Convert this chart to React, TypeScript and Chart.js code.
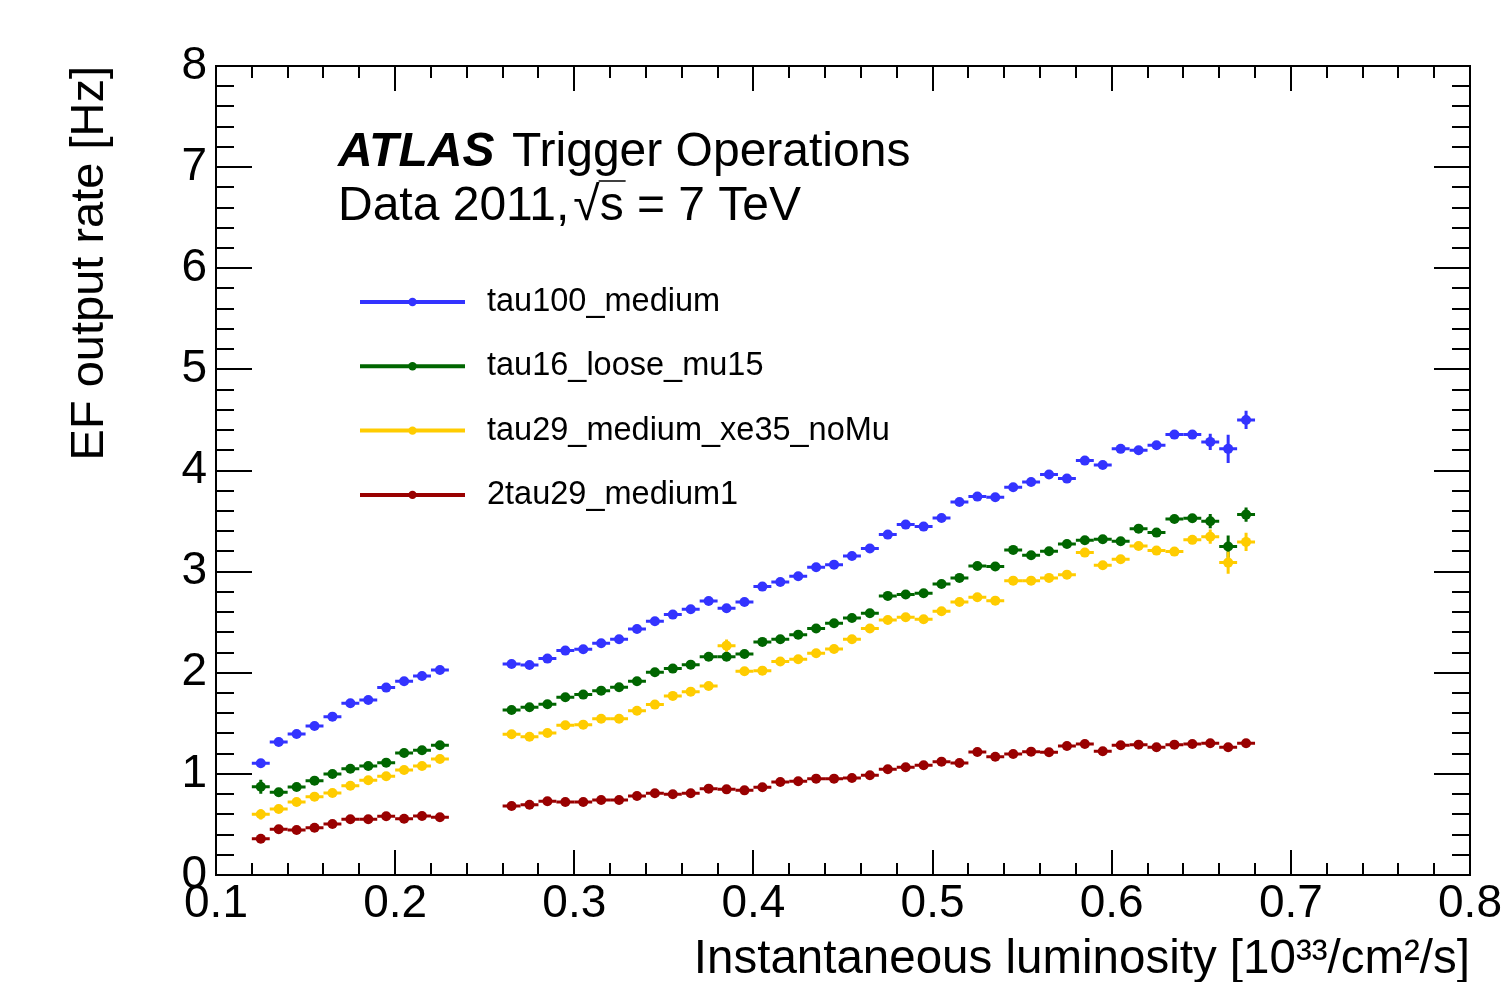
import React, { useEffect, useRef } from 'react';
import { Chart, registerables } from 'chart.js';

Chart.register(...registerables);

// Bin centres of instantaneous luminosity [10^33 / cm^2 / s]
const luminosity = [
  0.125, 0.135, 0.145, 0.155, 0.165, 0.175, 0.185, 0.195, 0.205, 0.215, 0.225,
  0.265, 0.275, 0.285, 0.295, 0.305, 0.315, 0.325, 0.335, 0.345, 0.355, 0.365, 0.375, 0.385, 0.395, 0.405, 0.415,
  0.425, 0.435, 0.445, 0.455, 0.465, 0.475, 0.485, 0.495, 0.505, 0.515, 0.525, 0.535, 0.545, 0.555,
  0.565, 0.575, 0.585, 0.595, 0.605, 0.615, 0.625, 0.635, 0.645, 0.655, 0.665, 0.675,
];
const binHalfWidth = 0.005;

const seriesNames = ['tau100_medium', 'tau16_loose_mu15', 'tau29_medium_xe35_noMu', '2tau29_medium1'];
const seriesColors = ['#3333ff', '#006600', '#ffcc00', '#990000'];

const tau100Medium = [
  1.105, 1.316, 1.395, 1.474, 1.566, 1.698, 1.731, 1.853, 1.916, 1.968, 2.028,
  2.087, 2.077, 2.140, 2.219, 2.232, 2.292, 2.331, 2.433, 2.509, 2.575, 2.628, 2.710, 2.638, 2.700, 2.852, 2.898,
  2.954, 3.043, 3.069, 3.155, 3.228, 3.366, 3.465, 3.445, 3.531, 3.689, 3.742, 3.735, 3.834, 3.887,
  3.960, 3.920, 4.098, 4.055, 4.214, 4.200, 4.250, 4.355, 4.355, 4.283, 4.214, 4.500,
];
const tau100MediumErr = [
  0.03, 0.02, 0.02, 0.02, 0.02, 0.02, 0.02, 0.02, 0.02, 0.02, 0.02,
  0.02, 0.02, 0.02, 0.02, 0.02, 0.02, 0.02, 0.02, 0.02, 0.02, 0.02, 0.02, 0.02, 0.02, 0.02, 0.02,
  0.02, 0.02, 0.02, 0.02, 0.02, 0.02, 0.02, 0.02, 0.02, 0.02, 0.02, 0.02, 0.02, 0.02,
  0.02, 0.02, 0.02, 0.02, 0.02, 0.02, 0.02, 0.03, 0.03, 0.08, 0.14, 0.09,
];

const tau16LooseMu15 = [
  0.873, 0.818, 0.870, 0.933, 0.999, 1.051, 1.078, 1.111, 1.207, 1.233, 1.283,
  1.632, 1.659, 1.688, 1.758, 1.784, 1.823, 1.857, 1.916, 2.005, 2.041, 2.080, 2.159, 2.159, 2.186, 2.305, 2.331,
  2.377, 2.437, 2.489, 2.542, 2.588, 2.760, 2.773, 2.786, 2.878, 2.938, 3.056, 3.050, 3.215, 3.162,
  3.202, 3.274, 3.310, 3.320, 3.300, 3.425, 3.386, 3.521, 3.528, 3.499, 3.248, 3.564,
];
const tau16LooseMu15Err = [
  0.07, 0.02, 0.02, 0.02, 0.02, 0.02, 0.02, 0.02, 0.02, 0.02, 0.02,
  0.02, 0.02, 0.02, 0.02, 0.02, 0.02, 0.02, 0.02, 0.02, 0.02, 0.02, 0.02, 0.02, 0.02, 0.02, 0.02,
  0.02, 0.02, 0.02, 0.02, 0.02, 0.02, 0.02, 0.02, 0.02, 0.02, 0.02, 0.02, 0.02, 0.02,
  0.02, 0.02, 0.02, 0.02, 0.02, 0.02, 0.02, 0.03, 0.03, 0.07, 0.11, 0.07,
];

const tau29MediumXe35NoMu = [
  0.600, 0.653, 0.722, 0.775, 0.811, 0.883, 0.937, 0.976, 1.039, 1.078, 1.147,
  1.392, 1.368, 1.405, 1.481, 1.487, 1.546, 1.546, 1.625, 1.685, 1.771, 1.813, 1.869, 2.268, 2.015, 2.021, 2.112,
  2.133, 2.193, 2.235, 2.331, 2.437, 2.522, 2.549, 2.529, 2.608, 2.700, 2.747, 2.713, 2.911, 2.911,
  2.938, 2.970, 3.188, 3.063, 3.122, 3.254, 3.208, 3.198, 3.314, 3.346, 3.089, 3.294,
];
const tau29MediumXe35NoMuErr = [
  0.05, 0.02, 0.02, 0.02, 0.02, 0.02, 0.02, 0.02, 0.02, 0.02, 0.02,
  0.02, 0.02, 0.02, 0.02, 0.02, 0.02, 0.02, 0.02, 0.02, 0.02, 0.02, 0.02, 0.06, 0.02, 0.02, 0.02,
  0.02, 0.02, 0.02, 0.02, 0.02, 0.02, 0.02, 0.02, 0.02, 0.02, 0.02, 0.02, 0.02, 0.02,
  0.02, 0.02, 0.02, 0.02, 0.02, 0.02, 0.02, 0.02, 0.03, 0.07, 0.11, 0.09,
];

const twoTau29Medium1 = [
  0.359, 0.452, 0.445, 0.468, 0.504, 0.551, 0.551, 0.581, 0.557, 0.584, 0.571,
  0.682, 0.695, 0.729, 0.722, 0.722, 0.742, 0.742, 0.781, 0.808, 0.798, 0.808, 0.854, 0.847, 0.837, 0.867, 0.920,
  0.927, 0.953, 0.953, 0.959, 0.986, 1.045, 1.065, 1.085, 1.121, 1.108, 1.217, 1.170, 1.197, 1.220,
  1.213, 1.276, 1.296, 1.223, 1.283, 1.289, 1.263, 1.289, 1.296, 1.303, 1.263, 1.303,
];
const twoTau29Medium1Err = [
  0.03, 0.02, 0.02, 0.02, 0.02, 0.02, 0.02, 0.02, 0.02, 0.02, 0.02,
  0.02, 0.02, 0.02, 0.02, 0.02, 0.02, 0.02, 0.02, 0.02, 0.02, 0.02, 0.02, 0.02, 0.02, 0.02, 0.02,
  0.02, 0.02, 0.02, 0.02, 0.02, 0.02, 0.02, 0.02, 0.02, 0.02, 0.02, 0.02, 0.02, 0.02,
  0.02, 0.02, 0.02, 0.02, 0.02, 0.02, 0.02, 0.02, 0.02, 0.02, 0.03, 0.03,
];

const seriesValues = [tau100Medium, tau16LooseMu15, tau29MediumXe35NoMu, twoTau29Medium1];
const seriesErrors = [tau100MediumErr, tau16LooseMu15Err, tau29MediumXe35NoMuErr, twoTau29Medium1Err];

const xTickLabels = ['0.1', '0.2', '0.3', '0.4', '0.5', '0.6', '0.7', '0.8'];
const yTickLabels = ['0', '1', '2', '3', '4', '5', '6', '7', '8'];

const xTitle = 'Instantaneous luminosity [10\u00B3\u00B3/cm\u00B2/s]';
const yTitle = 'EF output rate [Hz]';

const FONT = '"Liberation Sans", Arial, Helvetica, sans-serif';

const rootStylePlugin = {
  id: 'rootStyle',
  beforeDatasetsDraw(chart: any) {
    const { ctx, chartArea, scales } = chart;
    const xs = scales.x;
    const ys = scales.y;
    ctx.save();
    ctx.beginPath();
    ctx.rect(chartArea.left, chartArea.top, chartArea.right - chartArea.left, chartArea.bottom - chartArea.top);
    ctx.clip();
    ctx.lineWidth = 3;
    ctx.lineCap = 'butt';
    chart.data.datasets.forEach((ds: any, i: number) => {
      const errs = seriesErrors[i];
      ctx.strokeStyle = seriesColors[i];
      ds.data.forEach((p: any, j: number) => {
        const px = xs.getPixelForValue(p.x);
        const py = ys.getPixelForValue(p.y);
        ctx.beginPath();
        ctx.moveTo(xs.getPixelForValue(p.x - binHalfWidth), py);
        ctx.lineTo(xs.getPixelForValue(p.x + binHalfWidth), py);
        ctx.moveTo(px, ys.getPixelForValue(p.y - errs[j]));
        ctx.lineTo(px, ys.getPixelForValue(p.y + errs[j]));
        ctx.stroke();
      });
    });
    ctx.restore();
  },
  afterDraw(chart: any) {
    const { ctx, chartArea, scales } = chart;
    const xs = scales.x;
    const ys = scales.y;
    const { left, right, top, bottom } = chartArea;
    ctx.save();
    // frame
    ctx.strokeStyle = '#000';
    ctx.lineWidth = 2;
    ctx.strokeRect(left, top, right - left, bottom - top);
    // inward ticks
    ctx.beginPath();
    for (let k = 0; k <= 35; k++) {
      const v = 0.1 + k * 0.02;
      const px = Math.round(xs.getPixelForValue(v));
      const len = k % 5 === 0 ? 25 : 12;
      ctx.moveTo(px, bottom);
      ctx.lineTo(px, bottom - len);
      ctx.moveTo(px, top);
      ctx.lineTo(px, top + len);
    }
    for (let k = 0; k <= 40; k++) {
      const v = k * 0.2;
      const py = Math.round(ys.getPixelForValue(v));
      const len = k % 5 === 0 ? 36 : 18;
      ctx.moveTo(left, py);
      ctx.lineTo(left + len, py);
      ctx.moveTo(right, py);
      ctx.lineTo(right - len, py);
    }
    ctx.stroke();

    // ATLAS label
    ctx.fillStyle = '#000';
    ctx.textBaseline = 'alphabetic';
    ctx.textAlign = 'left';
    ctx.font = `italic bold 48px ${FONT}`;
    ctx.fillText('ATLAS', 338, 166);
    ctx.font = `48px ${FONT}`;
    ctx.fillText('Trigger Operations', 512, 166);
    const part1 = 'Data 2011,';
    ctx.fillText(part1, 338, 220);
    let cx = 338 + ctx.measureText(part1).width + 4;
    const rad = '\u221A';
    ctx.fillText(rad, cx, 220);
    cx += ctx.measureText(rad).width;
    const sW = ctx.measureText('s').width;
    ctx.fillText('s = 7 TeV', cx, 220);
    ctx.lineWidth = 1.5;
    ctx.beginPath();
    ctx.moveTo(cx - 1, 181);
    ctx.lineTo(cx + sW + 2, 181);
    ctx.stroke();

    // legend
    ctx.font = `32.5px ${FONT}`;
    ctx.textBaseline = 'middle';
    seriesNames.forEach((name, i) => {
      const ly = 302 + i * 64.3;
      ctx.strokeStyle = seriesColors[i];
      ctx.lineWidth = 4;
      ctx.beginPath();
      ctx.moveTo(360, ly);
      ctx.lineTo(465, ly);
      ctx.stroke();
      ctx.fillStyle = seriesColors[i];
      ctx.beginPath();
      ctx.arc(412.5, ly, 4.2, 0, Math.PI * 2);
      ctx.fill();
      ctx.fillStyle = '#000';
      ctx.fillText(name, 487, ly);
    });
    ctx.restore();
  },
};

export default function App() {
  const canvasRef = useRef<HTMLCanvasElement | null>(null);

  useEffect(() => {
    const canvas = canvasRef.current;
    if (!canvas) return;
    Chart.defaults.font.family = FONT;
    const datasets = seriesNames.map((name, i) => ({
      label: name,
      data: luminosity.map((x, j) => ({ x, y: seriesValues[i][j] })),
      backgroundColor: seriesColors[i],
      borderColor: seriesColors[i],
      pointBackgroundColor: seriesColors[i],
      pointBorderWidth: 0,
      pointRadius: 5,
      pointHoverRadius: 5,
      showLine: false,
    }));

    const chart = new Chart(canvas, {
      type: 'scatter',
      data: { datasets },
      plugins: [rootStylePlugin],
      options: {
        animation: false,
        responsive: false,
        devicePixelRatio: 1,
        events: [],
        layout: { padding: { top: 66, right: 32, left: 0, bottom: 0 } },
        plugins: {
          legend: { display: false },
          tooltip: { enabled: false },
        },
        scales: {
          x: {
            type: 'linear',
            min: 0.1,
            max: 0.8,
            grid: { display: false, drawTicks: false },
            border: { display: false },
            ticks: {
              stepSize: 0.1,
              color: '#000',
              padding: 6,
              maxRotation: 0,
              autoSkip: false,
              font: { size: 46, lineHeight: 1 },
              callback: (v: any) => xTickLabels.find((l) => Math.abs(parseFloat(l) - Number(v)) < 1e-6) ?? '',
            },
            title: {
              display: true,
              text: xTitle,
              align: 'end',
              color: '#000',
              font: { size: 47.5, lineHeight: 1 },
              padding: { top: 0, bottom: -2 },
            },
            afterFit: (scale: any) => {
              scale.height = 107;
              scale.paddingLeft = 0;
              scale.paddingRight = 0;
            },
          },
          y: {
            type: 'linear',
            min: 0,
            max: 8,
            grid: { display: false, drawTicks: false },
            border: { display: false },
            ticks: {
              stepSize: 1,
              color: '#000',
              padding: 9,
              autoSkip: false,
              font: { size: 46, lineHeight: 1 },
              callback: (v: any) => yTickLabels.find((l) => Math.abs(parseFloat(l) - Number(v)) < 1e-6) ?? '',
            },
            title: {
              display: true,
              text: yTitle,
              align: 'end',
              color: '#000',
              font: { size: 47, lineHeight: 1 },
              padding: { top: 67, bottom: 0 },
            },
            afterFit: (scale: any) => {
              scale.width = 216;
              scale.paddingTop = 0;
              scale.paddingBottom = 0;
            },
          },
        },
      } as any,
    });
    return () => chart.destroy();
  }, []);

  return (
    <div style={{ position: 'fixed', left: 0, top: 0, width: 1502, height: 982, background: '#fff' }}>
      <canvas ref={canvasRef} width={1502} height={982} style={{ display: 'block', width: 1502, height: 982 }} />
    </div>
  );
}
